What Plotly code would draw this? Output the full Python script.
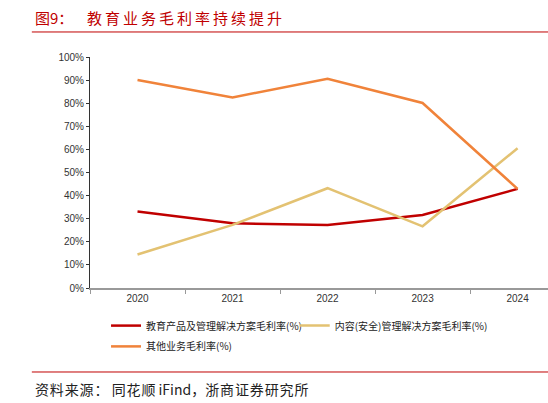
import plotly.graph_objects as go

years = ["2020", "2021", "2022", "2023", "2024"]
edu_products = [33.1, 28.0, 27.3, 31.6, 42.9]
content_security = [14.5, 27.3, 43.2, 26.7, 60.5]
other_business = [90.0, 82.5, 90.6, 80.1, 42.9]
y_ticks = list(range(0, 101, 10))
y_labels = [f"{v}%" for v in y_ticks]

names = ["教育产品及管理解决方案毛利率(%)", "内容(安全)管理解决方案毛利率(%)", "其他业务毛利率(%)"]
colors = ["#C00000", "#E3C272", "#F0833A"]
series = [edu_products, content_security, other_business]
legend_ids = ["legend", "legend2", "legend3"]

font_cn = "Noto Sans CJK SC"
font_num = "Liberation Sans, Arial"


def spaced(text, sep):
    return sep.join(text)


fig = go.Figure()

for name, vals, col, lg in zip(names, series, colors, legend_ids):
    fig.add_trace(
        go.Scatter(
            x=years,
            y=vals,
            name=name,
            mode="lines",
            line=dict(color=col, width=2.5),
            legend=lg,
        )
    )

legend_style = dict(
    orientation="h",
    xanchor="left",
    yanchor="top",
    font=dict(family=font_cn, size=10, color="#222"),
    itemwidth=30,
    bgcolor="rgba(0,0,0,0)",
)

fig.update_layout(
    width=548,
    height=403,
    margin=dict(l=90, r=0, t=57, b=115),
    paper_bgcolor="white",
    plot_bgcolor="white",
    showlegend=True,
    legend=dict(x=0.035, y=-0.1, **legend_style),
    legend2=dict(x=0.447, y=-0.1, **legend_style),
    legend3=dict(x=0.035, y=-0.19, **legend_style),
    xaxis=dict(
        type="category",
        range=[-0.5, 4.32],
        tickson="boundaries",
        ticks="outside",
        ticklen=4,
        tickcolor="#999",
        showline=True,
        linecolor="#999",
        linewidth=2,
        showgrid=False,
        tickfont=dict(family=font_num, size=10, color="#333"),
    ),
    yaxis=dict(
        range=[0, 100],
        tickvals=y_ticks,
        ticktext=y_labels,
        ticks="outside",
        ticklen=3,
        tickcolor="#333",
        showline=True,
        linecolor="#333",
        linewidth=1,
        showgrid=False,
        zeroline=False,
        tickfont=dict(family=font_num, size=10, color="#333"),
    ),
)

# title and source with rules
fig.add_annotation(
    text="图9：",
    xref="paper", yref="paper",
    x=-0.125, y=1.173, xanchor="left", yanchor="middle",
    showarrow=False,
    font=dict(family=font_cn, size=15, color="#C00000"),
)
fig.add_annotation(
    text=spaced("教育业务毛利率持续提升", "\u2009"),
    xref="paper", yref="paper",
    x=-0.0114, y=1.173, xanchor="left", yanchor="middle",
    showarrow=False,
    font=dict(family=font_cn, size=15, color="#C00000"),
)
fig.add_shape(
    type="line", xref="paper", yref="paper",
    x0=-0.127, x1=1.0, y0=1.1083, y1=1.1083,
    line=dict(color="#C00000", width=1),
)
fig.add_shape(
    type="line", xref="paper", yref="paper",
    x0=-0.127, x1=1.0, y0=-0.3636, y1=-0.3636,
    line=dict(color="#C00000", width=1),
)
fig.add_annotation(
    text=spaced("资料来源：", "\u200a") + " " + spaced("同花顺", "\u200a") + " iFind，"
    + spaced("浙商证券研究所", "\u200a"),
    xref="paper", yref="paper",
    x=-0.125, y=-0.437, xanchor="left", yanchor="middle",
    showarrow=False,
    font=dict(family=font_cn, size=14, color="#222"),
)

fig.write_html(
    "out.html",
    config={"displayModeBar": False},
    post_script="document.body.style.margin='0';",
)
